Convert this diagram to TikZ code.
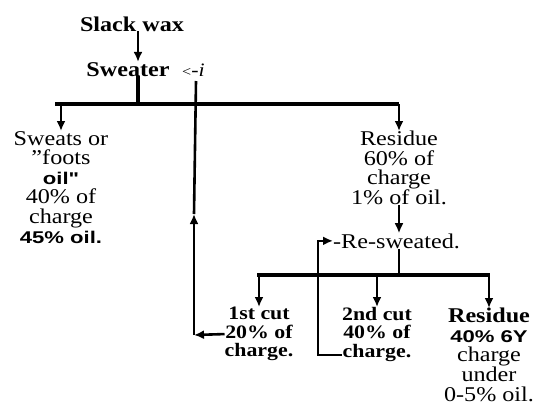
\documentclass[tikz,border=0pt]{standalone}
\usepackage{fontspec}
\setmainfont{Liberation Serif}[FakeStretch=1.15]
\newfontfamily\heavysans{Liberation Sans}[FakeStretch=1.3]
\usetikzlibrary{arrows.meta,positioning}
\newcommand{\oilfont}{\heavysans\bfseries\fontsize{17}{19.6}\selectfont}

\begin{document}
\begin{tikzpicture}[x=1pt,y=-1pt,
    every node/.style={inner sep=0pt,font=\fontsize{21}{19.6}\selectfont},
    txt/.style={align=center,anchor=north},
    cut/.style={txt,font=\fontsize{19}{18.5}\selectfont\bfseries},
    flow/.style={line width=2.6pt},
    arr/.style={flow,-{Latex[length=10pt,width=9pt]}},
    bar/.style={line width=3.8pt}]
  \useasboundingbox (0,0) rectangle (533,405);
  % top of the flow
  \node[anchor=base,font=\fontsize{21}{20}\selectfont\bfseries] (slack) at (132,31) {Slack wax};
  \node[anchor=base,font=\fontsize{21}{20}\selectfont\bfseries] (sweater) at (128,76) {Sweater};
  \node[anchor=base west,font=\fontsize{19}{19}\selectfont] (inlet) at (182,76) {{\fontsize{14}{14}\selectfont<}-\textit{i}};
  \node[txt] (sweats) at (61,131) {Sweats or\\\symbol{34}foots\\{\oilfont oil\symbol{34}}\\40\% of\\charge\\{\oilfont 45\% oil.}};
  \node[txt] (res1) at (399,131) {Residue\\60\% of\\charge\\1\%\ of oil.};
  \node[anchor=base west] (resweat) at (333,248) {-Re-sweated.};
  % second sweating
  \node[cut] (cut1) at (259,307) {1st cut\\20\% of\\charge.};
  \node[cut] (cut2) at (377,307) {2nd cut\\40\% of\\charge.};
  \node[txt] (res2) at (489,308) {\textbf{Residue}\\{\oilfont 40\% 6Y}\\charge\\under\\0-5\% oil.};

  \coordinate (drop) at (138,104);
  \coordinate (b1l) at (55,104);
  \coordinate (b1r) at (399,104);
  \coordinate (b2l) at (257,275);
  \coordinate (b2r) at (490,275);
  \coordinate (loopbot) at (318,355);
  \coordinate (back) at (194,335);
  \coordinate (rise) at (194,214);
  \coordinate (top) at (196,81);

  \draw[arr] (slack.south -| drop) -- (sweater.north -| drop);
  \draw[bar] (sweater.south -| drop) -- (drop);
  \draw[bar] (b1l) -- (b1r);
  \draw[arr] (sweats.north |- b1l) -- (sweats.north);
  \draw[arr] (b1r) -- (res1.north);
  \draw[arr] (res1.south) -- (resweat.north -| res1.south);
  \draw[flow] (resweat.south -| res1.south) -- (b2l -| res1.south);
  \draw[bar] (b2l) -- (b2r);
  \draw[arr] (cut1.north |- b2l) -- (cut1.north);
  \draw[arr] (cut2.north |- b2l) -- (cut2.north);
  \draw[arr] (res2.north |- b2l) -- (res2.north);
  % back to the sweater
  \draw[arr] (cut2.west |- loopbot) -- (loopbot) |- (resweat.west);
  \draw[arr] (cut1.west) -- (back);
  \draw[arr] (back) -- (rise);
  \draw[flow] (rise) -- (top);
\end{tikzpicture}
\end{document}
